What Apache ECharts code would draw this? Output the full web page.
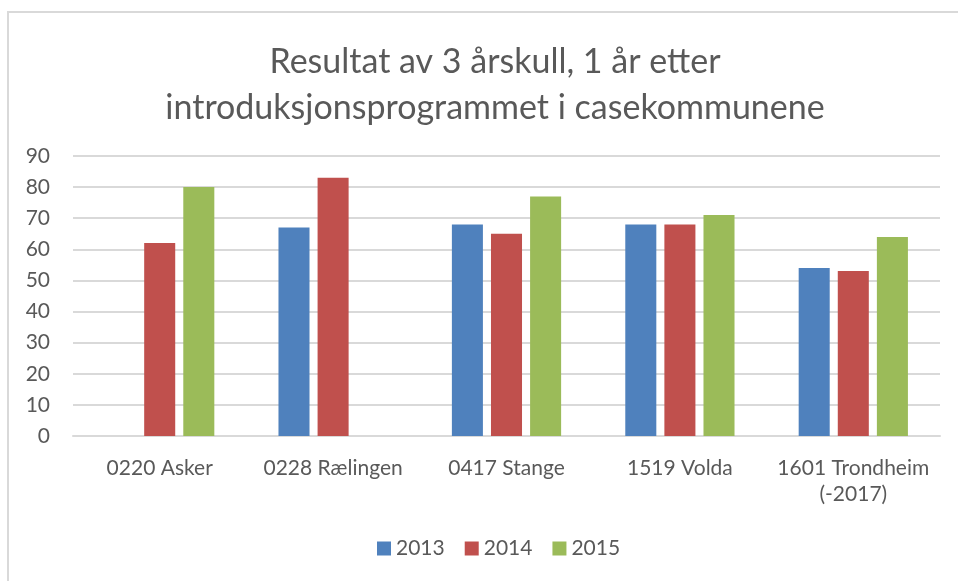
<!DOCTYPE html>
<html>
<head>
<meta charset="utf-8">
<script src="https://cdn.jsdelivr.net/npm/echarts@6/dist/echarts.min.js"></script>
<style>
html,body{margin:0;padding:0;background:#fff;}
#frame{position:absolute;left:7px;top:11px;width:1000px;height:700px;border:2px solid #d9d9d9;box-sizing:border-box;}
#chart{position:absolute;left:0;top:0;width:958px;height:581px;}
</style>
</head>
<body>
<div id="frame"></div>
<div id="chart"></div>
<script>
var categories = ['0220 Asker', '0228 Rælingen', '0417 Stange', '1519 Volda', '1601 Trondheim\n(-2017)'];
var seriesNames = ['2013', '2014', '2015'];
var values2013 = [null, 67, 68, 68, 54];
var values2014 = [62, 83, 65, 68, 53];
var values2015 = [80, null, 77, 71, 64];
var yTicks = [0, 10, 20, 30, 40, 50, 60, 70, 80, 90];
var titleText = 'Resultat av 3 årskull, 1 år etter\nintroduksjonsprogrammet i casekommunene';
var colors = ['#4F81BD', '#C0504D', '#9BBB59'];

var chart = echarts.init(document.getElementById('chart'), null, {renderer: 'canvas'});
var font = 'Lato, "Open Sans", sans-serif';
var allValues = [values2013, values2014, values2015];
chart.setOption({
  animation: false,
  backgroundColor: 'transparent',
  color: colors,
  title: {
    text: titleText,
    left: 490,
    top: 34,
    textAlign: 'center',
    textStyle: {fontFamily: font, fontSize: 34, fontWeight: 'normal', color: '#595959', lineHeight: 46}
  },
  legend: {
    data: seriesNames,
    bottom: 17,
    left: 372,
    itemWidth: 14,
    itemHeight: 14,
    itemGap: 20,
    icon: 'rect',
    textStyle: {fontFamily: font, fontSize: 21, color: '#595959'}
  },
  grid: {left: 73, right: 18, top: 156, bottom: 145, containLabel: false},
  xAxis: {
    type: 'category',
    data: categories,
    axisLine: {show: true, lineStyle: {color: '#d9d9d9', width: 2}},
    axisTick: {show: false},
    axisLabel: {fontFamily: font, fontSize: 21, color: '#595959', margin: 19, lineHeight: 26, interval: 0, hideOverlap: false}
  },
  yAxis: {
    type: 'value',
    min: yTicks[0],
    max: yTicks[yTicks.length - 1],
    interval: yTicks[1] - yTicks[0],
    axisLine: {show: false},
    axisTick: {show: false},
    splitLine: {lineStyle: {color: '#d9d9d9', width: 2}},
    axisLabel: {fontFamily: font, fontSize: 21, color: '#595959', margin: 23}
  },
  series: seriesNames.map(function (n, i) {
    return {
      name: n,
      type: 'bar',
      data: allValues[i],
      barGap: '26%',
      barCategoryGap: '37%'
    };
  })
});
</script>
</body>
</html>
